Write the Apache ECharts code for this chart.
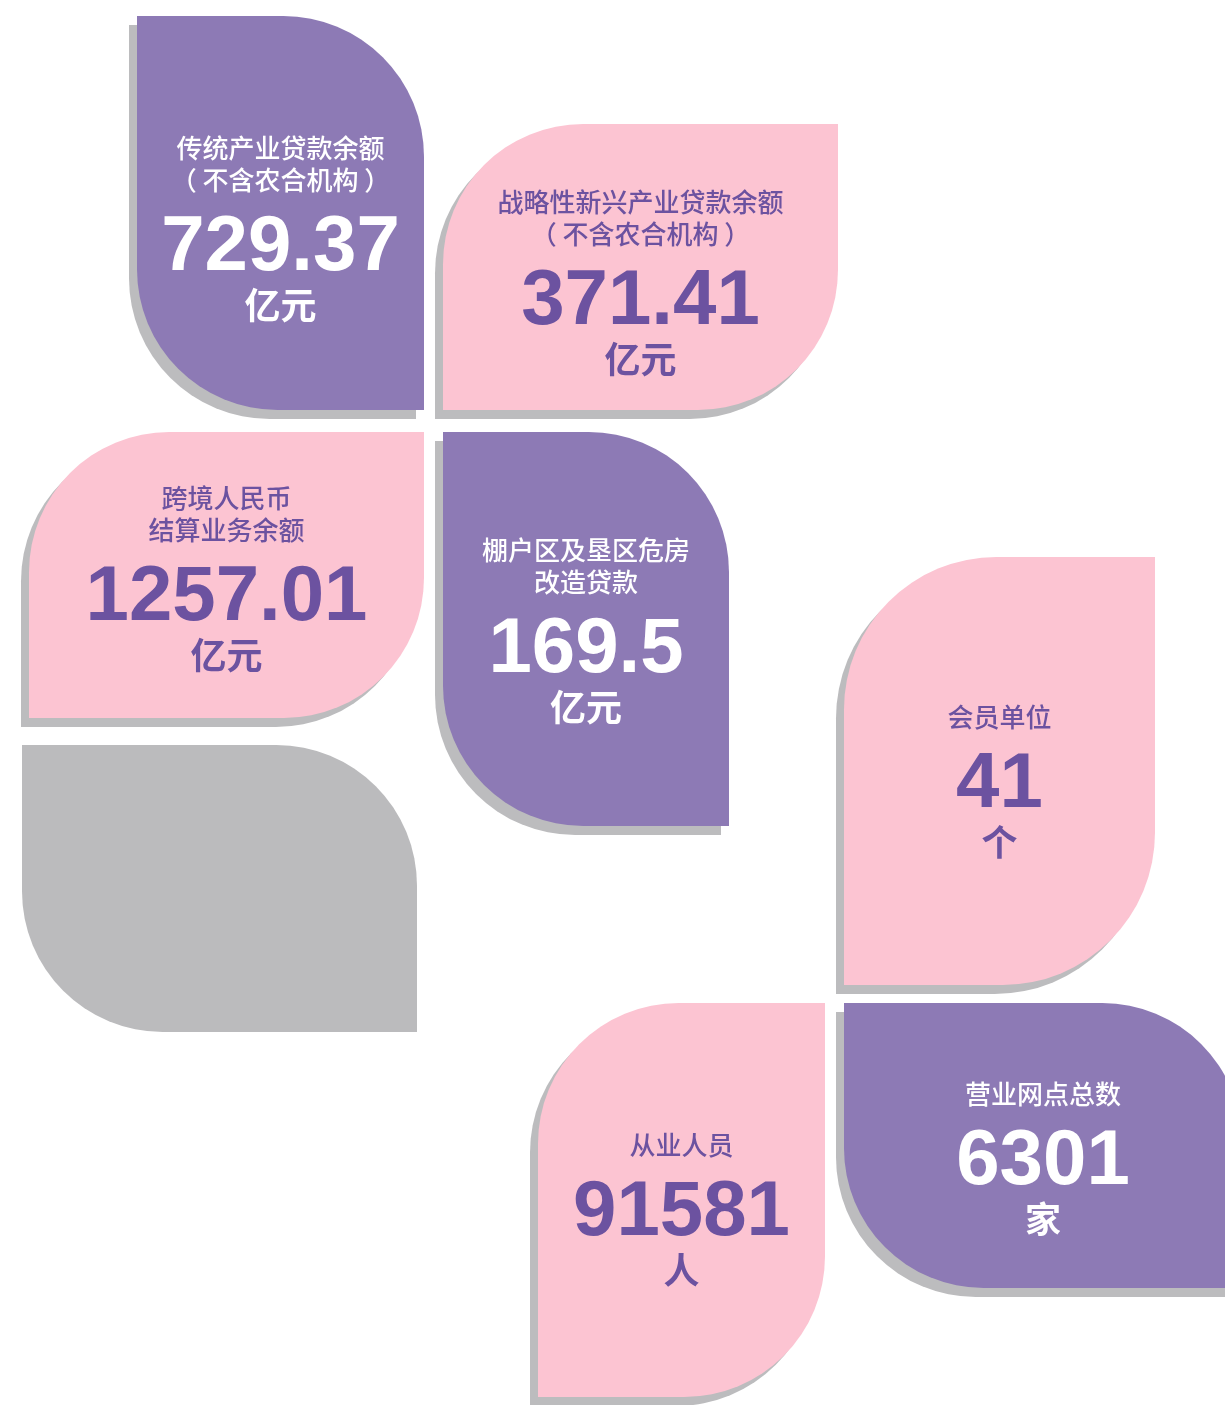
<!DOCTYPE html>
<html>
<head>
<meta charset="utf-8">
<style>
  html, body { margin: 0; padding: 0; background: #fff; }
  #main { width: 1225px; height: 1405px; }
</style>
<script src="https://cdn.jsdelivr.net/npm/echarts@6/dist/echarts.min.js"></script>
</head>
<body>
<div id="main"></div>
<script>
// figures shown on the leaves
const titles = [
  ['传统产业贷款余额', '（ 不含农合机构 ）'],
  ['战略性新兴产业贷款余额', '（ 不含农合机构 ）'],
  ['跨境人民币', '结算业务余额'],
  ['棚户区及垦区危房', '改造贷款'],
  ['会员单位'],
  ['营业网点总数'],
  ['从业人员']
]
const values = [729.37, 371.41, 1257.01, 169.5, 41, 6301, 91581]
const units = ['亿元', '亿元', '亿元', '亿元', '个', '家', '人']

// layout of the leaves (page units), kept apart from the figures
const tiles = [
  { box: [137, 16, 424, 410], leaf: 'tr', theme: 'purple', mid: 243 },
  { box: [443, 124, 838, 410], leaf: 'tl', theme: 'pink', mid: 297 },
  { box: [29, 432, 424, 718], leaf: 'tl', theme: 'pink', mid: 593 },
  { box: [443, 432, 729, 826], leaf: 'tr', theme: 'purple', mid: 645 },
  { box: [844, 557, 1155, 985], leaf: 'tl', theme: 'pink', mid: 780 },
  { box: [844, 1003, 1242, 1288], leaf: 'tr', theme: 'purple', mid: 1157 },
  { box: [538, 1003, 825, 1397], leaf: 'tl', theme: 'pink', mid: 1208 }
]
const blankTile = { box: [22, 745, 417, 1032], leaf: 'tr' }

const themes = {
  purple: { fill: '#8d7ab5', text: '#ffffff' },
  pink: { fill: '#fcc4d2', text: '#6c52a0' }
}
const shadowColor = '#bcbcbe'
const cjk = '"Noto Sans CJK SC", "Noto Sans", sans-serif'

function leafRect(api, t, dx, dy, fill) {
  const p0 = api.coord([t.box[0], t.box[1]])
  const p1 = api.coord([t.box[2], t.box[3]])
  const w = p1[0] - p0[0]
  const h = p1[1] - p0[1]
  const r = Math.min(w, h) * 0.49
  return {
    type: 'rect',
    shape: {
      x: p0[0] + dx, y: p0[1] + dy, width: w, height: h,
      r: t.leaf === 'tr' ? [0, r, 0, r] : [r, 0, r, 0]
    },
    style: { fill: fill }
  }
}

function renderLeaf(params, api) {
  const i = params.dataIndex
  const t = tiles[i]
  const th = themes[t.theme]
  const cx = api.coord([(t.box[0] + t.box[2]) / 2, t.mid])
  const children = [
    leafRect(api, t, -8, 9, shadowColor),
    leafRect(api, t, 0, 0, th.fill)
  ]
  const lines = titles[i]
  lines.forEach((line, k) => {
    children.push({
      type: 'text',
      style: {
        text: line,
        x: cx[0],
        y: cx[1] - 63 - (lines.length - 1 - k) * 32,
        fill: th.text,
        font: '500 26px ' + cjk,
        align: 'center',
        verticalAlign: 'middle'
      }
    })
  })
  // the number, nudged so the digits sit on the measured centre line
  children.push({
    type: 'text',
    style: {
      text: String(api.value(1)),
      x: cx[0],
      y: cx[1] + 5,
      fill: th.text,
      font: 'bold 78px "Liberation Sans", Arial, sans-serif',
      align: 'center',
      verticalAlign: 'middle'
    }
  })
  children.push({
    type: 'text',
    style: {
      text: units[i],
      x: cx[0],
      y: cx[1] + 62,
      fill: th.text,
      font: 'bold 36px ' + cjk,
      align: 'center',
      verticalAlign: 'middle'
    }
  })
  return { type: 'group', children: children }
}

const chart = echarts.init(document.getElementById('main'))
chart.setOption({
  backgroundColor: '#ffffff',
  animation: false,
  grid: { left: 0, top: 0, right: 0, bottom: 0 },
  xAxis: { type: 'value', min: 0, max: 1225, show: false },
  yAxis: { type: 'value', min: 0, max: 1405, inverse: true, show: false },
  series: [
    {
      type: 'custom',
      clip: false,
      silent: true,
      data: [[0, 0]],
      renderItem: (params, api) => leafRect(api, blankTile, 0, 0, '#bbbbbd')
    },
    {
      type: 'custom',
      clip: false,
      silent: true,
      data: values.map((v, i) => [i, v]),
      renderItem: renderLeaf
    }
  ]
})
</script>
</body>
</html>
